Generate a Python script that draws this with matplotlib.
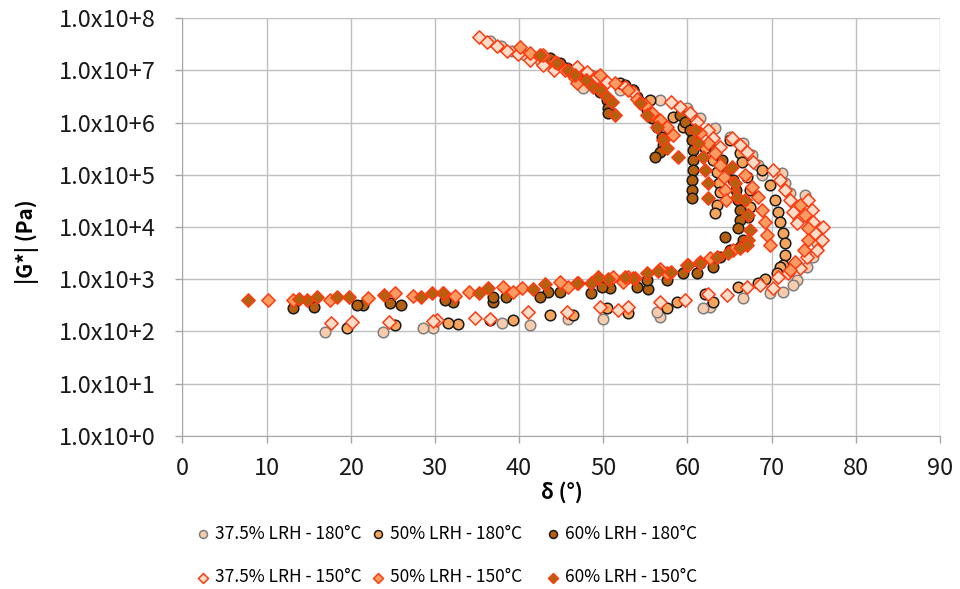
import numpy as np
import matplotlib.pyplot as plt
from matplotlib.ticker import FixedLocator, FuncFormatter, NullLocator

plt.rcParams['font.family'] = ['Noto Sans CJK JP', 'DejaVu Sans']

# 37.5% LRH - 180°C
d_375_180 = [36.6, 37.8, 39.2, 40.7, 42.5, 44.1, 47.6, 48.5, 50.2, 52.0, 56.8, 60.0, 61.5, 63.3,
             65.1, 66.6, 67.7, 68.4, 68.9, 71.3, 71.6, 72.2, 72.8, 73.2, 74.0, 74.6, 75.1, 75.4,
             74.9, 74.2, 73.0, 72.6, 71.4, 69.8, 66.6, 62.7, 61.8, 56.8, 56.4, 50.0, 45.8, 41.3,
             38.0, 29.8, 28.6, 23.8, 16.9]
g_375_180 = [3.6e7, 3.0e7, 2.4e7, 1.96e7, 1.57e7, 1.15e7, 4.6e6, 8.1e6, 6.0e6, 4.2e6, 2.7e6, 1.9e6, 1.22e6, 7.9e5,
             5.3e5, 4.1e5, 2.4e5, 1.54e5, 9.9e4, 1.08e5, 7.0e4, 4.5e4, 2.6e4, 1.42e4, 4.1e4, 1.36e4, 8.0e3, 4.9e3,
             2.7e3, 1.7e3, 970, 780, 570, 550, 440, 295, 280, 190, 235, 173, 173, 133,
             146, 117, 117, 98, 98]

# 50% LRH - 180°C
d_50_180 = [52.0, 53.6, 55.6, 58.3, 59.5, 60.7, 62.1, 63.1, 63.5, 63.8, 63.9, 63.5, 63.3,
            65.1, 66.3, 66.5, 67.1, 67.5, 67.5, 67.2,
            68.9, 69.8, 70.4, 70.8, 71.0, 71.4, 71.6, 71.6, 71.4, 71.0, 70.7, 69.2, 68.4, 66.0,
            63.1, 62.1, 58.8, 57.6, 53.0, 50.5, 46.4, 43.7, 39.3, 36.6, 32.7, 31.5, 25.3, 19.6]
g_50_180 = [5.7e6, 4.2e6, 2.7e6, 1.27e6, 8.2e5, 5.3e5, 3.25e5, 1.9e5, 1.13e5, 7.0e4, 4.7e4, 2.6e4, 1.85e4,
            4.6e5, 2.6e5, 1.75e5, 9.1e4, 5.1e4, 2.4e4, 1.55e4,
            1.23e5, 6.4e4, 3.3e4, 1.94e4, 1.25e4, 7.7e3, 4.9e3, 2.9e3, 1.9e3, 1.7e3, 1.32e3, 1.01e3, 850, 710,
            370, 520, 370, 280, 225, 280, 207, 207, 166, 166, 139, 146, 133, 117]

# 60% LRH - 180°C
d_60_180 = [43.7, 44.3, 44.9, 45.7, 46.9, 48.1, 48.8, 49.6, 50.5, 50.6, 50.6,
            52.6, 53.6, 54.0, 54.6, 55.2, 55.8, 56.4, 57.0, 57.1, 56.8, 56.2,
            59.1, 59.7, 60.3, 60.6, 60.7, 60.7, 60.7, 60.6, 60.6, 60.5,
            63.3, 64.1, 64.8, 65.4, 65.8, 66.0, 66.2, 66.2, 66.0, 64.5,
            66.6, 66.3, 65.1, 63.9, 63.1, 61.5, 61.2, 59.5, 57.6, 55.3, 55.2, 54.0, 50.8, 49.9,
            48.5, 44.9, 43.5, 42.5, 38.4, 36.9, 36.9, 32.2, 31.2, 26.0, 24.7, 21.4, 20.8, 15.6, 13.1]
g_60_180 = [1.7e7, 1.44e7, 1.38e7, 1.1e7, 8.1e6, 6.5e6, 5.2e6, 3.8e6, 2.7e6, 1.9e6, 1.52e6,
            5.2e6, 4.2e6, 3.1e6, 2.4e6, 1.73e6, 1.22e6, 8.2e5, 5.3e5, 3.7e5, 2.7e5, 2.2e5,
            1.39e6, 1.02e6, 7.2e5, 4.6e5, 3.0e5, 1.9e5, 1.23e5, 7.9e4, 5.1e4, 3.6e4,
            3.0e5, 1.9e5, 1.23e5, 7.9e4, 5.1e4, 3.3e4, 2.1e4, 1.36e4, 9.6e3, 6.4e3,
            5.6e3, 4.1e3, 3.6e3, 2.7e3, 1.7e3, 2.05e3, 1.32e3, 1.32e3, 970, 650, 970, 710, 680, 710,
            550, 570, 570, 460, 460, 370, 460, 370, 400, 320, 350, 320, 320, 295, 280]

# 37.5% LRH - 150°C
d_375_150 = [35.2, 36.2, 37.4, 38.6, 39.9, 41.3, 42.8, 44.1,
             46.9, 48.1, 49.3, 50.5, 52.6, 53.6,
             58.0, 59.1, 60.3, 61.2, 62.4, 63.1, 63.9,
             65.3, 66.3, 67.1, 67.8,
             70.2, 71.0, 71.6, 72.2, 72.6, 73.0,
             74.3, 74.8, 74.9, 75.2, 76.1, 76.0, 75.4, 74.2, 73.4, 71.9, 70.8,
             70.2, 68.6, 67.1, 64.7, 62.4, 59.7, 56.8, 53.0, 51.8, 49.6, 45.7, 41.1, 36.6,
             34.8, 30.3, 29.8, 24.5, 20.2, 17.6]
g_375_150 = [4.33e7, 3.5e7, 3.0e7, 2.4e7, 2.1e7, 1.57e7, 1.26e7, 1.01e7,
             1.15e7, 9.3e6, 7.4e6, 6.0e6, 4.8e6, 3.8e6,
             2.5e6, 2.0e6, 1.52e6, 1.02e6, 7.2e5, 5.0e5, 3.4e5,
             5.0e5, 3.7e5, 2.7e5, 1.75e5,
             1.23e5, 7.9e4, 5.1e4, 3.3e4, 1.94e4, 1.19e4,
             3.3e4, 2.1e4, 1.25e4, 7.7e3, 1.0e4, 5.6e3, 3.6e3, 2.7e3, 1.64e3, 1.32e3, 1.1e3,
             680, 780, 710, 500, 520, 400, 370, 295, 260, 295, 235, 235, 173,
             180, 166, 159, 152, 152, 146]

# 50% LRH - 150°C
d_50_150 = [40.1, 41.3, 42.8, 44.3, 45.5, 46.7, 46.9,
            49.6, 51.4, 53.0, 54.0, 55.0, 55.8, 56.8, 57.6, 58.3,
            61.5, 62.5, 63.3, 63.9, 64.3, 64.5, 64.6,
            66.9, 67.7, 68.4, 68.9, 69.2, 69.5, 69.8,
            73.4, 74.0, 74.3, 74.3, 73.8, 72.8, 72.2,
            65.4, 62.7, 61.5, 60.0, 57.6, 56.8, 53.8, 53.0, 52.3, 51.2, 49.4, 47.0, 45.8, 44.9,
            40.4, 39.3, 38.1, 34.0, 32.4, 31.0, 27.4, 25.3, 22.0, 17.5, 13.1, 10.2]
g_50_150 = [2.8e7, 2.2e7, 1.96e7, 1.44e7, 1.01e7, 7.1e6, 5.7e6,
            8.1e6, 5.7e6, 4.2e6, 2.9e6, 2.2e6, 1.52e6, 1.12e6, 8.2e5, 5.8e5,
            6.3e5, 4.1e5, 2.6e5, 1.54e5, 9.1e4, 5.1e4, 3.3e4,
            9.9e4, 5.8e4, 3.75e4, 2.1e4, 1.25e4, 7.0e3, 4.5e3,
            2.6e4, 1.7e4, 9.6e3, 5.6e3, 3.6e3, 2.1e3, 1.5e3,
            3.6e3, 2.55e3, 2.1e3, 1.9e3, 1.32e3, 1.57e3, 1.06e3, 1.1e3, 890, 1.1e3, 1.1e3, 850, 710, 890,
            680, 570, 710, 570, 480, 550, 480, 550, 440, 400, 400, 400]

# 60% LRH - 150°C
d_60_150 = [42.5, 44.5, 45.8, 46.7, 47.9, 48.8, 49.6, 50.5, 51.1, 51.4,
            54.4, 55.2, 56.4, 57.1, 57.6, 58.9,
            60.9, 61.3, 61.8, 62.1, 62.4, 62.5,
            65.3, 65.7, 65.9, 66.9, 67.2, 67.5, 67.2,
            67.1, 66.3, 64.8, 63.5, 61.5, 60.1, 58.0, 56.5, 55.2, 53.6, 52.6, 50.6, 49.4, 48.5, 46.9,
            43.1, 41.7, 36.3, 35.2, 31.0, 29.6, 28.3, 23.9, 19.8, 18.4, 16.0, 14.8, 13.8, 7.84]
g_60_150 = [1.96e7, 1.38e7, 1.01e7, 8.1e6, 6.5e6, 4.8e6, 4.2e6, 3.1e6, 2.5e6, 1.39e6,
            2.4e6, 1.39e6, 8.2e5, 4.6e5, 3.25e5, 2.2e5,
            7.2e5, 4.1e5, 2.2e5, 1.23e5, 7.0e4, 3.6e4,
            1.4e5, 7.0e4, 3.75e4, 3.3e4, 1.7e4, 8.8e3, 5.6e3,
            4.5e3, 4.0e3, 3.2e3, 2.7e3, 2.05e3, 1.9e3, 1.38e3, 1.44e3, 1.32e3, 1.06e3, 1.1e3, 1.01e3, 1.06e3, 850, 850,
            810, 650, 680, 550, 550, 550, 460, 500, 460, 460, 460, 400, 420, 400]

series = [
    ('37.5% LRH - 180°C', d_375_180, g_375_180, 'o', '#F8CBAD', '#7F7F7F'),
    ('50% LRH - 180°C', d_50_180, g_50_180, 'o', '#F7A55C', '#1A1A1A'),
    ('60% LRH - 180°C', d_60_180, g_60_180, 'o', '#B5600F', '#1A1A1A'),
    ('37.5% LRH - 150°C', d_375_150, g_375_150, 'D', '#FDDCC8', '#FF3B12'),
    ('50% LRH - 150°C', d_50_150, g_50_150, 'D', '#FA9C62', '#FF3B12'),
    ('60% LRH - 150°C', d_60_150, g_60_150, 'D', '#B5600F', '#FF3B12'),
]

fig = plt.figure(figsize=(9.6, 5.89), dpi=100)
ax = fig.add_axes([0.19, 0.26, 0.789, 0.709])

handles = []
for label, d, g, mk, fc, ec in series:
    size = 58 if mk == 'o' else 46
    h = ax.scatter(d, g, s=size, marker=mk, facecolor=fc, edgecolor=ec,
                   linewidth=1.1, label=label, zorder=3)
    handles.append(h)

ax.set_yscale('log')
ax.set_xlim(0, 90)
ax.set_ylim(1, 1e8)
ax.xaxis.set_major_locator(FixedLocator(np.arange(0, 91, 10)))
ax.yaxis.set_major_locator(FixedLocator([10.0 ** k for k in range(9)]))
ax.yaxis.set_minor_locator(NullLocator())
ax.yaxis.set_major_formatter(FuncFormatter(lambda v, p: '1.0x10+%d' % int(round(np.log10(v)))))

ax.grid(True, color='#BFBFBF', linewidth=1.0, zorder=0)
ax.set_axisbelow(True)
for side in ['top', 'right']:
    ax.spines[side].set_visible(False)
for side in ['left', 'bottom']:
    ax.spines[side].set_color('#A6A6A6')
ax.tick_params(axis='both', labelsize=17, colors='#A6A6A6', labelcolor='#1A1A1A',
               direction='out', length=5, width=1.0)
ax.tick_params(axis='y', pad=14)
ax.tick_params(axis='x', pad=10)

fig.text(562 / 960, 1 - 492 / 589, 'δ (°)', fontsize=15, fontweight='bold',
         ha='center', va='center')
fig.text(27 / 960, 1 - 242 / 589, '|G*| (Pa)', fontsize=15, fontweight='bold',
         ha='center', va='center', rotation=90)

# one legend column per LRH level: 180°C circle on top, 150°C diamond below
col_x = [194, 369, 544]
for i, x in enumerate(col_x):
    hs = [handles[i], handles[i + 3]]
    fig.legend(hs, [h.get_label() for h in hs], loc='upper left',
               bbox_to_anchor=(x / 960, 1 - 525 / 589), frameon=False,
               fontsize=12.5, markerscale=0.75, handletextpad=0.2, handlelength=1.0,
               labelspacing=1.45, borderaxespad=0, borderpad=0)

fig.savefig('out.png', dpi=100)
